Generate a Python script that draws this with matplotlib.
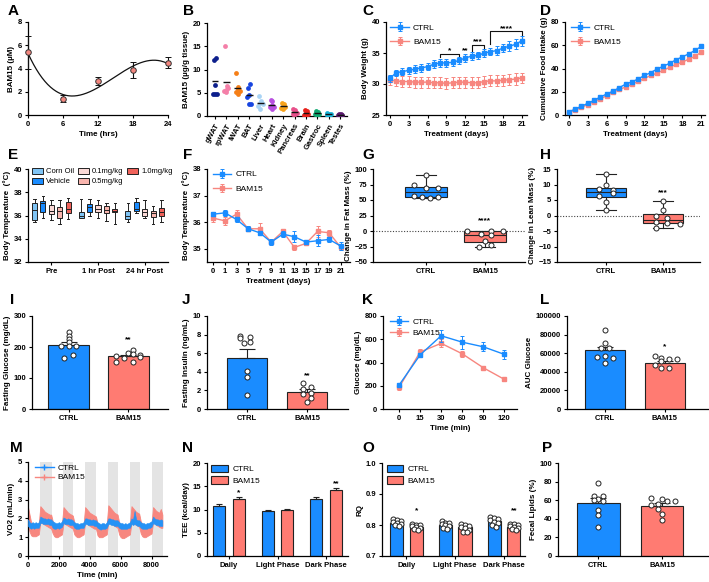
import numpy as np
import matplotlib
matplotlib.use('Agg')
import matplotlib.pyplot as plt
from matplotlib.lines import Line2D
from matplotlib.patches import Patch

plt.rcParams['font.family'] = ['Liberation Sans', 'DejaVu Sans']
plt.rcParams['font.weight'] = 'bold'
plt.rcParams['axes.labelweight'] = 'bold'
plt.rcParams['font.size'] = 5.5
plt.rcParams['axes.linewidth'] = 0.9
plt.rcParams['xtick.major.width'] = 0.8
plt.rcParams['ytick.major.width'] = 0.8
plt.rcParams['xtick.major.size'] = 2.5
plt.rcParams['ytick.major.size'] = 2.5
plt.rcParams['xtick.labelsize'] = 5.5
plt.rcParams['ytick.labelsize'] = 5.5
plt.rcParams['axes.labelsize'] = 5.8
plt.rcParams['xtick.major.pad'] = 2
plt.rcParams['ytick.major.pad'] = 1.5
plt.rcParams['axes.labelpad'] = 2

# ---------------- DATA ----------------
# A
A_time = [0, 6, 12, 18, 24]
A_conc = [5.4, 1.4, 2.9, 3.85, 4.5]
A_sem = [1.4, 0.3, 0.35, 0.7, 0.45]

# B
B_tissues = ['gWAT', 'rpWAT', 'iWAT', 'BAT', 'Liver', 'Heart', 'Kidney',
             'Pancreas', 'Brain', 'Gastroc', 'Spleen', 'Testes']
B_values = [
    [12.0, 12.4, 6.7, 4.8, 4.7, 4.8],
    [15.1, 6.5, 5.5, 5.3, 5.2, 6.0],
    [9.3, 6.2, 5.9, 5.2, 4.7, 5.4],
    [6.1, 6.8, 4.5, 4.0, 2.6, 2.5],
    [4.3, 3.3, 2.8, 2.1, 1.6, 2.5],
    [3.4, 3.2, 2.3, 1.9, 1.6, 2.0],
    [2.8, 2.6, 2.0, 1.8, 1.6, 2.0],
    [1.6, 1.2, 0.8, 0.5, 0.4, 0.6],
    [1.3, 1.0, 0.6, 0.3, 0.2, 0.4],
    [1.0, 0.8, 0.5, 0.4, 0.3, 0.5],
    [0.7, 0.5, 0.3, 0.3, 0.2, 0.4],
    [0.5, 0.4, 0.3, 0.2, 0.2, 0.3],
]
B_colors = ['#0d1f8c', '#f47fa8', '#f57f17', '#1745e0', '#a9d4f5', '#b84fe0',
            '#f7a21b', '#e8508a', '#e8201a', '#0fa870', '#16b4d8', '#5a1a6e']

# C
C_days = list(range(22))
C_ctrl = [30.9, 31.8, 32.0, 32.2, 32.4, 32.6, 32.8, 33.2, 33.4, 33.4, 33.5, 33.8,
          34.2, 34.5, 34.6, 35.0, 35.2, 35.4, 35.8, 36.1, 36.4, 37.0]
C_ctrl_sem = [0.5, 0.5, 0.6, 0.6, 0.6, 0.6, 0.6, 0.6, 0.6, 0.6, 0.6, 0.6,
              0.6, 0.6, 0.6, 0.6, 0.6, 0.7, 0.7, 0.8, 0.8, 0.8]
C_bam = [30.6, 30.5, 30.4, 30.4, 30.3, 30.3, 30.3, 30.2, 30.2, 30.1, 30.2, 30.3,
         30.3, 30.2, 30.2, 30.4, 30.5, 30.5, 30.6, 30.7, 30.8, 31.0]
C_bam_sem = [0.8, 0.9, 0.9, 0.9, 0.9, 0.9, 0.9, 0.9, 0.9, 0.9, 0.9, 0.9,
             0.9, 0.9, 0.9, 0.9, 0.9, 0.9, 0.9, 0.9, 0.9, 0.8]
C_sig_start = [8, 13, 16]
C_sig_end = [11, 15, 21]
C_sig_y = [34.9, 36.35, 38.5]
C_sig_drop = [34.4, 35.4, 36.5]
C_sig_label = ['*', '***', '****']
C_sig2_day = 12
C_sig2_y = 35.1
C_sig2_label = '**'

# D
D_days = list(range(22))
D_ctrl = [2.8, 5.0, 7.5, 10.0, 12.5, 15.5, 18.0, 20.5, 23.5, 26.5, 28.5, 31.0,
          34.0, 36.5, 39.5, 42.0, 44.5, 47.5, 50.0, 52.5, 55.5, 59.0]
D_ctrl_sem = [0.3, 0.5, 0.5, 0.6, 0.6, 0.7, 0.7, 0.8, 0.8, 0.9, 0.9, 1.0,
              1.0, 1.1, 1.1, 1.2, 1.2, 1.3, 1.3, 1.4, 1.5, 1.6]
D_bam = [2.0, 4.2, 6.5, 9.0, 11.5, 14.0, 16.5, 19.5, 22.0, 24.0, 26.5, 29.0,
         31.5, 34.0, 36.0, 38.5, 41.0, 43.5, 45.5, 48.0, 50.5, 54.0]
D_bam_sem = [0.5, 0.7, 0.7, 0.8, 0.8, 0.9, 0.9, 1.0, 1.0, 1.1, 1.1, 1.2,
             1.2, 1.3, 1.3, 1.4, 1.4, 1.5, 1.5, 1.6, 1.7, 1.8]

# E
E_groups = ['Pre', '1 hr Post', '24 hr Post']
E_doses = ['Corn Oil', 'Vehicle', '0.1mg/kg', '0.5mg/kg', '1.0mg/kg']
E_lo = [[35.4, 35.75, 35.45], [35.8, 36.0, 36.2], [35.6, 35.8, 35.8], [35.3, 35.5, 35.3], [35.7, 35.3, 35.45]]
E_q1 = [[35.6, 35.75, 35.7], [36.3, 36.3, 36.4], [36.1, 36.3, 36.0], [35.8, 36.2, 35.9], [36.2, 36.3, 36.0]]
E_med = [[36.5, 36.0, 36.0], [37.1, 36.7, 36.6], [36.4, 36.55, 36.3], [36.4, 36.5, 36.2], [36.6, 36.4, 36.3]]
E_q3 = [[37.05, 36.3, 36.4], [37.25, 37.0, 37.2], [36.9, 36.9, 36.6], [36.7, 36.85, 36.4], [37.2, 36.55, 36.65]]
E_hi = [[37.4, 37.4, 37.05], [37.7, 37.4, 37.5], [37.3, 37.3, 37.35], [37.3, 37.1, 36.8], [37.5, 37.1, 37.35]]
E_colors = ['#7fc4f5', '#1a8cff', '#fbd9d6', '#f9b5ae', '#f0625a']

# F
F_days = ['0', '1', '3', '5', '7', '9', '11', '13', '15', '17', '19', '21']
F_ctrl = [36.3, 36.35, 36.1, 35.75, 35.6, 35.25, 35.55, 35.45, 35.25, 35.3, 35.35, 35.1]
F_ctrl_sem = [0.07, 0.12, 0.1, 0.1, 0.08, 0.1, 0.1, 0.2, 0.05, 0.2, 0.1, 0.15]
F_bam = [36.15, 36.05, 36.3, 35.75, 35.75, 35.25, 35.65, 35.05, 35.2, 35.65, 35.6, 35.05]
F_bam_sem = [0.15, 0.15, 0.15, 0.1, 0.22, 0.05, 0.1, 0.08, 0.05, 0.2, 0.12, 0.08]

# G, H
groups2 = ['CTRL', 'BAM15']
G_ctrl = [90, 75, 70, 70, 56, 55, 55, 54]
G_bam = [0.5, 0, 0, -5, -7, -16, -23, -26]
H_ctrl = [13.3, 9.9, 8.2, 8.4, 7.1, 6.4, 4.2, 1.8]
H_bam = [4.6, 1.7, -0.1, -0.7, -2.0, -2.3, -2.9, -4.1]

# I
I_mean = [205, 170]
I_sem = [11, 5]
I_ctrl_pts = [249, 237, 226, 215, 204, 204, 203, 174, 166]
I_bam_pts = [191, 181, 178, 175, 172, 168, 166, 153, 153]

# J
J_mean = [5.5, 1.8]
J_sem = [1.0, 0.3]
J_ctrl_pts = [7.8, 7.7, 7.6, 7.2, 7.1, 4.1, 3.4, 1.5]
J_bam_pts = [2.8, 2.4, 2.2, 1.7, 1.6, 1.2, 0.8]

# K
K_time = ['0', '15', '30', '60', '90', '120']
K_ctrl = [205, 465, 630, 575, 535, 470]
K_ctrl_sem = [10, 15, 50, 55, 40, 40]
K_bam = [185, 490, 565, 475, 355, 255]
K_bam_sem = [20, 25, 35, 25, 15, 15]

# L
L_mean = [63000, 50000]
L_sem = [4000, 2000]
L_ctrl_pts = [85000, 71500, 66000, 66000, 57000, 56000, 55000, 50000]
L_bam_pts = [57000, 55000, 54000, 54000, 52000, 47000, 44000, 44000]

# M
M_time = list(range(0, 8800, 100))
M_bam_hi = [2.6, 2.2, 1.8, 1.7, 1.65, 1.65, 1.7, 1.75,
            2.65, 2.55, 2.45, 2.35, 2.3, 2.25, 2.2, 2.2,
            1.85, 1.7, 1.6, 1.6, 1.6, 1.65, 1.75,
            2.6, 2.5, 2.4, 2.3, 2.25, 2.2, 2.15,
            1.8, 1.7, 1.6, 1.6, 1.6, 1.65, 1.7,
            2.6, 2.5, 2.4, 2.3, 2.25, 2.2, 2.15, 2.1,
            1.75, 1.65, 1.6, 1.55, 1.6, 1.65, 1.7,
            2.7, 2.6, 2.5, 2.4, 2.3, 2.25, 2.2,
            1.8, 1.65, 1.6, 1.55, 1.55, 1.6, 1.65, 1.75,
            2.65, 2.55, 2.45, 2.35, 2.3, 2.25,
            1.85, 1.7, 1.65, 1.6, 1.6, 1.65, 1.7, 1.75,
            2.6, 2.5, 2.4, 2.35, 2.3, 2.5, 2.2]
M_bam_lo = [1.7, 1.3, 1.1, 1.05, 1.05, 1.05, 1.1, 1.15,
            1.8, 1.75, 1.7, 1.65, 1.6, 1.55, 1.5, 1.45,
            1.2, 1.05, 1.0, 1.0, 1.05, 1.1, 1.15,
            1.75, 1.7, 1.65, 1.6, 1.55, 1.5, 1.45,
            1.15, 1.05, 1.0, 1.0, 1.05, 1.1, 1.15,
            1.8, 1.75, 1.65, 1.6, 1.55, 1.5, 1.45, 1.45,
            1.1, 1.0, 1.0, 1.0, 1.05, 1.1, 1.15,
            1.85, 1.8, 1.7, 1.65, 1.6, 1.55, 1.5,
            1.15, 1.0, 0.95, 0.95, 1.0, 1.05, 1.1, 1.15,
            1.8, 1.75, 1.7, 1.65, 1.6, 1.55,
            1.2, 1.05, 1.0, 1.0, 1.05, 1.1, 1.15, 1.2,
            1.8, 1.75, 1.65, 1.6, 1.55, 1.5, 1.5]
M_ctrl_hi = [1.95, 1.8, 1.75, 1.8, 1.75, 1.8, 1.75, 1.8,
             2.1, 2.05, 2.0, 2.0, 1.95, 2.0, 1.95, 1.95,
             1.85, 1.8, 1.75, 1.75, 1.8, 1.75, 1.85,
             2.05, 2.0, 1.95, 2.0, 1.95, 1.95, 1.9,
             1.8, 1.75, 1.75, 1.7, 1.75, 1.75, 1.8,
             2.0, 2.0, 1.95, 1.95, 1.9, 1.95, 1.9, 1.9,
             1.8, 1.75, 1.7, 1.75, 1.75, 1.7, 1.8,
             2.0, 2.0, 1.95, 1.95, 1.9, 1.9, 1.9,
             1.8, 1.75, 1.75, 1.7, 1.75, 1.7, 1.75, 1.8,
             2.0, 1.95, 2.4, 1.95, 1.9, 1.9,
             1.8, 1.75, 1.75, 1.7, 1.75, 1.75, 1.8, 1.85,
             2.1, 2.0, 1.95, 1.95, 1.9, 1.95, 1.9]
M_ctrl_lo = [1.6, 1.5, 1.45, 1.5, 1.45, 1.5, 1.5, 1.5,
             1.75, 1.75, 1.7, 1.7, 1.7, 1.7, 1.65, 1.65,
             1.5, 1.45, 1.45, 1.5, 1.45, 1.5, 1.55,
             1.75, 1.7, 1.7, 1.7, 1.65, 1.65, 1.65,
             1.5, 1.45, 1.45, 1.45, 1.5, 1.5, 1.5,
             1.7, 1.7, 1.65, 1.65, 1.65, 1.65, 1.6, 1.6,
             1.5, 1.45, 1.4, 1.45, 1.45, 1.45, 1.5,
             1.7, 1.7, 1.65, 1.65, 1.6, 1.6, 1.6,
             1.5, 1.45, 1.45, 1.45, 1.45, 1.45, 1.5, 1.5,
             1.7, 1.65, 1.7, 1.65, 1.6, 1.6,
             1.5, 1.45, 1.45, 1.45, 1.45, 1.5, 1.5, 1.55,
             1.75, 1.7, 1.65, 1.65, 1.6, 1.6, 1.6]
M_dark_start = [780, 2250, 3700, 5180, 6620, 8060]
M_dark_end = [1540, 2930, 4420, 5850, 7280, 8770]

# N
N_phases = ['Daily', 'Light Phase', 'Dark Phase']
N_ctrl = [10.8, 9.6, 12.2]
N_ctrl_sem = [0.4, 0.2, 0.5]
N_bam = [12.2, 10.0, 14.1]
N_bam_sem = [0.4, 0.2, 0.5]

# O
O_ctrl = [0.807, 0.801, 0.812]
O_bam = [0.795, 0.792, 0.795]
O_ctrl_pts = [[0.819, 0.816, 0.814, 0.810, 0.806, 0.804, 0.800, 0.797],
              [0.813, 0.808, 0.805, 0.803, 0.800, 0.797, 0.790, 0.788],
              [0.826, 0.822, 0.820, 0.815, 0.810, 0.806, 0.800, 0.795]]
O_bam_pts = [[0.803, 0.800, 0.800, 0.798, 0.795, 0.790, 0.786, 0.785],
             [0.803, 0.800, 0.797, 0.795, 0.790, 0.785, 0.778, 0.776],
             [0.803, 0.802, 0.800, 0.797, 0.792, 0.790, 0.786, 0.783]]

# P
P_mean = [57, 54]
P_sem = [5, 2.5]
P_ctrl_pts = [79, 65, 64, 61, 60, 59, 50, 44, 31]
P_bam_pts = [62, 61, 59, 59, 56, 55, 51, 45, 39]

# ---------------- STYLE ----------------
BLUE = '#1a8cff'
RED = '#ff7b72'
LRED = '#f7867f'
W, H = 709, 582
fig = plt.figure(figsize=(W / 100, H / 100), dpi=100)


def axpx(x0, y0, x1, y1):
    ax = fig.add_axes([x0 / W, 1 - y1 / H, (x1 - x0) / W, (y1 - y0) / H])
    ax.spines['top'].set_visible(False)
    ax.spines['right'].set_visible(False)
    return ax


def letter(x, y, s):
    fig.text(x / W, 1 - y / H, s, fontsize=11, fontweight='bold', ha='left', va='center')


LEG = dict(frameon=False, prop={'weight': 'normal', 'size': 6}, loc='upper left',
           borderaxespad=0, borderpad=0.2, handletextpad=0.5)


def star(ax, x, y, s):
    ax.text(x, y, s, ha='center', va='center', fontsize=6, fontweight='bold')


def pts(ax, x, vals, offs):
    ax.scatter([x + o for o in offs[:len(vals)]], vals, s=13, facecolor='white',
               edgecolor='#222', linewidths=0.7, zorder=5, clip_on=False)


def barpanel(ax, means, sems, width=0.67, capsize=6):
    ax.bar([0, 1], means, width=width, color=[BLUE, RED], edgecolor='#222', linewidth=0.8, zorder=2)
    ax.errorbar([0, 1], means, yerr=[[0, 0], sems], fmt='none', ecolor='#222',
                elinewidth=0.8, capsize=capsize, capthick=0.8, zorder=3)
    ax.set_xticks([0, 1])
    ax.set_xticklabels(groups2)


OFF9 = [0, 0, 0, 0, -0.13, 0, 0.13, 0.07, -0.07]
OFF9b = [0.07, 0, 0.07, 0.2, -0.2, 0.2, -0.07, -0.2, 0.07]

# ---- A
axA = axpx(28, 22, 168, 115)
coef = np.polyfit(A_time, A_conc, 3)
tt = np.linspace(0, 24, 200)
axA.plot(tt, np.polyval(coef, tt), color='#111', lw=0.9)
cont = axA.errorbar(A_time, A_conc, yerr=A_sem, fmt='o', ms=4, mfc='#f4877f', mec='#333',
                    mew=0.7, ecolor='#111', elinewidth=0.8, capsize=2, capthick=0.8, zorder=3)
for a in cont.get_children():
    a.set_clip_on(False)
axA.set_xlim(0, 24)
axA.set_ylim(0, 8)
axA.set_xticks([0, 6, 12, 18, 24])
axA.set_yticks([0, 2, 4, 6, 8])
axA.set_xlabel('Time (hrs)')
axA.set_ylabel('BAM15 (µM)')
letter(8, 11, 'A')

# ---- B
axB = axpx(207, 23, 347, 116)
B_off = [-0.12, 0.05, 0.0, -0.18, 0.0, 0.18]
for i, (vals, c) in enumerate(zip(B_values, B_colors)):
    axB.scatter([i + o for o in B_off[:len(vals)]], vals, s=12, color=c, linewidths=0, zorder=3)
    axB.hlines(np.mean(vals), i - 0.3, i + 0.3, color='#111', lw=1, zorder=4)
axB.set_xlim(-0.7, 11.6)
axB.set_ylim(0, 20)
axB.set_yticks([0, 5, 10, 15, 20])
axB.set_xticks(range(len(B_tissues)))
axB.set_xticklabels(B_tissues, rotation=60, ha='right', rotation_mode='anchor')
axB.set_ylabel('BAM15 (µg/g tissue)')
letter(183, 11, 'B')

# ---- C
axC = axpx(386, 22, 527, 115)
ebk = dict(marker='s', ms=2.6, lw=1, elinewidth=0.7, capsize=1.5, capthick=0.7)
axC.errorbar(C_days, C_ctrl, yerr=C_ctrl_sem, color=BLUE, label='CTRL', zorder=3, **ebk)
axC.errorbar(C_days, C_bam, yerr=C_bam_sem, color=LRED, label='BAM15', zorder=2, **ebk)
for s0, s1, y, yd, lab in zip(C_sig_start, C_sig_end, C_sig_y, C_sig_drop, C_sig_label):
    axC.plot([s0, s0, s1, s1], [yd, y, y, yd], color='#111', lw=0.8, clip_on=False)
    star(axC, (s0 + s1) / 2, y + 0.45, lab)
star(axC, C_sig2_day, C_sig2_y + 0.3, C_sig2_label)
axC.set_xlim(-0.6, 21.8)
axC.set_ylim(25, 40)
axC.set_xticks([0, 3, 6, 9, 12, 15, 18, 21])
axC.set_yticks([25, 30, 35, 40])
axC.set_xlabel('Treatment (days)')
axC.set_ylabel('Body Weight (g)')
axC.legend(bbox_to_anchor=(0.02, 1.0), labelspacing=0.8, handlelength=2.2, **LEG)
letter(362, 11, 'C')

# ---- D
axD = axpx(565, 22, 705, 115)
axD.errorbar(D_days, D_ctrl, yerr=D_ctrl_sem, color=BLUE, label='CTRL', zorder=3, **ebk)
axD.errorbar(D_days, D_bam, yerr=D_bam_sem, color=LRED, label='BAM15', zorder=2, **ebk)
axD.set_xlim(-0.6, 21.6)
axD.set_ylim(0, 80)
axD.set_xticks([0, 3, 6, 9, 12, 15, 18, 21])
axD.set_yticks([0, 20, 40, 60, 80])
axD.set_xlabel('Treatment (days)')
axD.set_ylabel('Cumulative Food Intake (g)')
axD.legend(bbox_to_anchor=(0.03, 1.0), labelspacing=0.8, handlelength=2.2, **LEG)
letter(540, 11, 'D')

# ---- E
axE = axpx(28, 169, 168, 262)
E_off = [-0.36, -0.18, 0.0, 0.18, 0.36]
for j in range(len(E_doses)):
    stats = []
    for g in range(len(E_groups)):
        stats.append(dict(whislo=E_lo[j][g], q1=E_q1[j][g], med=E_med[j][g],
                          q3=E_q3[j][g], whishi=E_hi[j][g], fliers=[]))
    axE.bxp(stats, positions=[g + E_off[j] for g in range(len(E_groups))], widths=0.11,
            patch_artist=True, showfliers=False,
            boxprops=dict(facecolor=E_colors[j], edgecolor='#222', linewidth=0.7),
            medianprops=dict(color='#222', linewidth=0.7),
            whiskerprops=dict(color='#222', linewidth=0.7),
            capprops=dict(color='#222', linewidth=0.7), manage_ticks=False)
axE.set_xlim(-0.5, 2.5)
axE.set_ylim(32, 40)
axE.set_yticks([32, 34, 36, 38, 40])
axE.set_xticks(range(3))
axE.set_xticklabels(E_groups)
axE.set_ylabel('Body Temperature  (°C)')
handlesE = [Patch(facecolor=c, edgecolor='#222', linewidth=0.7) for c in E_colors]
axE.legend(handlesE, E_doses, ncol=3, bbox_to_anchor=(0.02, 1.02), columnspacing=0.45,
           labelspacing=0.3, handlelength=1.45, handleheight=0.8,
           frameon=False, prop={'weight': 'normal', 'size': 5.5}, loc='upper left',
           borderaxespad=0, borderpad=0.1, handletextpad=0.45)
letter(8, 155, 'E')

# ---- F
axF = axpx(207, 169, 350, 262)
xF = list(range(len(F_days)))
axF.errorbar(xF, F_ctrl, yerr=F_ctrl_sem, color=BLUE, label='CTRL', zorder=3, **ebk)
axF.errorbar(xF, F_bam, yerr=F_bam_sem, color=LRED, label='BAM15', zorder=2, **ebk)
axF.set_xlim(-0.55, 11.8)
axF.set_ylim(34.5, 38)
axF.set_yticks([35, 36, 37, 38])
axF.set_xticks(xF)
axF.set_xticklabels(F_days)
axF.set_xlabel('Treatment (days)')
axF.set_ylabel('Body Temperature  (°C)')
axF.legend(bbox_to_anchor=(0.03, 1.0), labelspacing=0.8, handlelength=2.2, **LEG)
letter(183, 155, 'F')


def boxpanel(ax, ctrl, bam, offs_c, offs_b):
    bp = ax.boxplot([ctrl, bam], positions=[0, 1], widths=0.7, whis=(0, 100),
                    patch_artist=True, showfliers=False,
                    medianprops=dict(color='#222', linewidth=0.8),
                    whiskerprops=dict(color='#222', linewidth=0.8),
                    capprops=dict(color='#222', linewidth=0.8))
    for patch, c in zip(bp['boxes'], [BLUE, RED]):
        patch.set_facecolor(c)
        patch.set_edgecolor('#222')
        patch.set_linewidth(0.8)
    pts(ax, 0, ctrl, offs_c)
    pts(ax, 1, bam, offs_b)
    ax.axhline(0, color='#444', lw=0.8, ls=(0, (1, 1.5)), zorder=1)
    ax.set_xticks([0, 1])
    ax.set_xticklabels(groups2)


# ---- G
axG = axpx(373, 169, 525, 262)
boxpanel(axG, G_ctrl, G_bam, [0, -0.2, 0, 0.2, -0.2, 0.2, -0.07, 0.07],
         [-0.3, 0.1, 0.3, -0.07, 0.1, 0.0, 0.1, -0.1])
star(axG, 1, 16.5, '****')
axG.set_xlim(-0.9, 1.68)
axG.set_ylim(-50, 100)
axG.set_yticks([-50, -25, 0, 25, 50, 75, 100])
axG.set_ylabel('Change in Fat Mass (%)')
letter(362, 155, 'G')

# ---- H
axH = axpx(557, 169, 700, 262)
boxpanel(axH, H_ctrl, H_bam, [0, 0, 0.13, -0.13, 0.13, -0.13, 0, 0],
         [0, 0, -0.13, 0.07, -0.13, 0.07, 0.3, -0.13])
star(axH, 1, 7.2, '***')
axH.set_xlim(-0.86, 1.65)
axH.set_ylim(-15, 15)
axH.set_yticks([-15, -10, -5, 0, 5, 10, 15])
axH.set_ylabel('Change in Lean Mass (%)')
letter(540, 155, 'H')

# ---- I
axI = axpx(32, 316, 168, 409)
barpanel(axI, I_mean, I_sem)
pts(axI, 0, I_ctrl_pts, OFF9)
pts(axI, 1, I_bam_pts, OFF9b)
star(axI, 1, 222, '**')
axI.set_xlim(-0.61, 1.66)
axI.set_ylim(0, 300)
axI.set_yticks([0, 100, 200, 300])
axI.set_ylabel('Fasting Glucose (mg/dL)')
letter(10, 300, 'I')

# ---- J
axJ = axpx(207, 316, 348, 409)
barpanel(axJ, J_mean, J_sem)
pts(axJ, 0, J_ctrl_pts, [-0.12, 0.05, -0.12, 0.05, -0.05, 0, 0, 0])
pts(axJ, 1, J_bam_pts, [-0.07, 0.07, -0.07, 0.07, -0.07, 0.07, 0])
star(axJ, 1, 3.6, '**')
axJ.set_xlim(-0.67, 1.68)
axJ.set_ylim(0, 10)
axJ.set_yticks([0, 2, 4, 6, 8, 10])
axJ.set_ylabel('Fasting Insulin (ng/mL)')
letter(182, 300, 'J')

# ---- K
axK = axpx(383, 316, 517, 409)
xK = list(range(len(K_time)))
axK.errorbar(xK, K_ctrl, yerr=K_ctrl_sem, color=BLUE, label='CTRL', zorder=3, **ebk)
axK.errorbar(xK, K_bam, yerr=K_bam_sem, color=LRED, label='BAM15', zorder=2, **ebk)
axK.set_xlim(-0.76, 5.6)
axK.set_ylim(0, 800)
axK.set_yticks([0, 200, 400, 600, 800])
axK.set_xticks(xK)
axK.set_xticklabels(K_time)
axK.set_xlabel('Time (min)')
axK.set_ylabel('Glucose (mg/dL)')
axK.legend(bbox_to_anchor=(0.04, 1.0), labelspacing=0.4, handlelength=2.2, **LEG)
letter(362, 300, 'K')

# ---- L
axL = axpx(567, 316, 708, 409)
barpanel(axL, L_mean, L_sem)
pts(axL, 0, L_ctrl_pts, [0, 0, -0.07, 0.07, 0, -0.13, 0.13, 0])
pts(axL, 1, L_bam_pts, [-0.17, -0.06, 0.07, 0.2, -0.06, -0.17, -0.06, 0.07])
star(axL, 1, 66500, '*')
axL.set_xlim(-0.63, 1.72)
axL.set_ylim(0, 100000)
axL.set_yticks([0, 20000, 40000, 60000, 80000, 100000])
axL.set_ylabel('AUC Glucose')
letter(540, 300, 'L')

# ---- M
axM = axpx(28, 462, 167, 556)
for s0, s1 in zip(M_dark_start, M_dark_end):
    axM.axvspan(s0, s1, color='#e4e4e4', lw=0, zorder=0)
axM.fill_between(M_time, M_bam_lo, M_bam_hi, color='#f7877f', lw=0.6, zorder=2)
axM.fill_between(M_time, M_ctrl_lo, M_ctrl_hi, color='#2592f5', lw=0.4, zorder=3)
axM.set_xlim(0, 9000)
axM.set_ylim(0, 5)
axM.set_xticks([0, 2000, 4000, 6000, 8000])
axM.set_yticks([0, 1, 2, 3, 4, 5])
axM.set_xlabel('Time (min)')
axM.set_ylabel('VO2 (mL/min)')
hM = [Line2D([0], [0], color=BLUE, lw=1, marker='+', ms=4),
      Line2D([0], [0], color=LRED, lw=1, marker='+', ms=4)]
axM.legend(hM, ['CTRL', 'BAM15'], bbox_to_anchor=(0.04, 1.0), labelspacing=0.25,
           handlelength=2.2, **LEG)
letter(10, 448, 'M')

# ---- N
axN = axpx(207, 463, 348, 556)
xN = np.arange(len(N_phases))
axN.bar(xN - 0.2, N_ctrl, width=0.25, color=BLUE, edgecolor='#222', lw=0.8, label='CTRL', zorder=2)
axN.bar(xN + 0.2, N_bam, width=0.25, color=RED, edgecolor='#222', lw=0.8, label='BAM15', zorder=2)
axN.errorbar(xN - 0.2, N_ctrl, yerr=[[0] * 3, N_ctrl_sem], fmt='none', ecolor='#222',
             elinewidth=0.8, capsize=2.5, capthick=0.8, zorder=3)
axN.errorbar(xN + 0.2, N_bam, yerr=[[0] * 3, N_bam_sem], fmt='none', ecolor='#222',
             elinewidth=0.8, capsize=2.5, capthick=0.8, zorder=3)
star(axN, 0.2, 13.6, '*')
star(axN, 2.2, 15.6, '**')
axN.set_xlim(-0.45, 2.45)
axN.set_ylim(0, 20)
axN.set_yticks([0, 5, 10, 15, 20])
axN.set_xticks(xN)
axN.set_xticklabels(N_phases)
axN.set_ylabel('TEE (kcal/day)')
axN.legend(bbox_to_anchor=(0.02, 1.0), labelspacing=0.35, handlelength=2.0, handleheight=1.0, **LEG)
letter(182, 448, 'N')

# ---- O
axO = axpx(382, 463, 525, 556)
xO = np.arange(len(N_phases))
axO.bar(xO - 0.2, np.array(O_ctrl) - 0.7, bottom=0.7, width=0.27, color=BLUE,
        edgecolor='#222', lw=0.8, label='CTRL', zorder=2)
axO.bar(xO + 0.2, np.array(O_bam) - 0.7, bottom=0.7, width=0.27, color=RED,
        edgecolor='#222', lw=0.8, label='BAM15', zorder=2)
OFF_O = [-0.08, 0.0, 0.08, -0.08, 0.0, 0.08, -0.04, 0.04]
for k in range(3):
    pts(axO, xO[k] - 0.2, O_ctrl_pts[k], OFF_O)
    pts(axO, xO[k] + 0.2, O_bam_pts[k], OFF_O)
star(axO, 0.2, 0.846, '*')
star(axO, 2.2, 0.846, '**')
axO.set_xlim(-0.5, 2.43)
axO.set_ylim(0.7, 1.0)
axO.set_yticks([0.7, 0.8, 0.9, 1.0])
axO.set_yticklabels(['0.7', '0.8', '0.9', '1.0'])
axO.set_xticks(xO)
axO.set_xticklabels(N_phases)
axO.set_ylabel('RQ')
axO.legend(bbox_to_anchor=(0.02, 1.0), labelspacing=0.35, handlelength=2.0, handleheight=1.0, **LEG)
letter(362, 448, 'O')

# ---- P
axP = axpx(558, 463, 708, 556)
barpanel(axP, P_mean, P_sem)
pts(axP, 0, P_ctrl_pts, [0, -0.07, 0.07, 0, -0.07, 0.07, 0, 0, 0])
pts(axP, 1, P_bam_pts, [-0.17, 0.0, 0.07, 0.2, -0.06, -0.17, -0.06, 0.0, 0.0])
axP.set_xlim(-0.63, 1.72)
axP.set_ylim(0, 100)
axP.set_yticks([0, 20, 40, 60, 80, 100])
axP.set_ylabel('Fecal Lipids (%)')
letter(542, 448, 'P')

fig.savefig('out.png', dpi=100)
